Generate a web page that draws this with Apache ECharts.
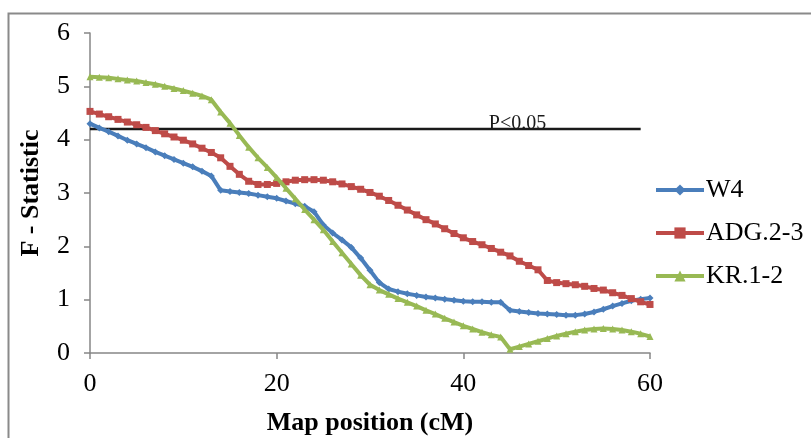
<!DOCTYPE html>
<html>
<head>
<meta charset="utf-8">
<script src="https://cdn.jsdelivr.net/npm/echarts@6/dist/echarts.min.js"></script>
<style>
html,body{margin:0;padding:0;background:#fff;}
#chart{width:811px;height:438px;}
</style>
</head>
<body>
<div id="chart"></div>
<script>
// Map position (cM)
const positions = [0,1,2,3,4,5,6,7,8,9,10,11,12,13,14,15,16,17,18,19,20,21,22,23,24,25,26,27,28,29,30,31,32,33,34,35,36,37,38,39,40,41,42,43,44,45,46,47,48,49,50,51,52,53,54,55,56,57,58,59,60];
const w4 = [4.30,4.22,4.15,4.07,3.99,3.92,3.85,3.77,3.70,3.63,3.56,3.49,3.41,3.32,3.05,3.03,3.01,2.99,2.96,2.93,2.90,2.85,2.80,2.75,2.65,2.40,2.25,2.12,1.98,1.78,1.55,1.32,1.20,1.15,1.11,1.08,1.05,1.03,1.01,0.99,0.97,0.96,0.96,0.95,0.95,0.80,0.78,0.76,0.74,0.73,0.72,0.71,0.71,0.73,0.77,0.82,0.88,0.93,0.98,1.01,1.03];
const adg = [4.53,4.48,4.43,4.38,4.33,4.28,4.23,4.17,4.11,4.05,3.99,3.92,3.84,3.76,3.66,3.50,3.35,3.22,3.16,3.16,3.18,3.21,3.24,3.25,3.25,3.24,3.21,3.17,3.12,3.07,3.01,2.94,2.86,2.77,2.68,2.59,2.50,2.42,2.33,2.24,2.16,2.09,2.03,1.96,1.89,1.82,1.72,1.64,1.56,1.36,1.32,1.30,1.28,1.25,1.21,1.18,1.13,1.08,1.02,0.96,0.91];
const kr = [5.18,5.17,5.16,5.14,5.12,5.10,5.07,5.04,5.00,4.96,4.92,4.87,4.82,4.75,4.52,4.31,4.08,3.86,3.66,3.48,3.29,3.09,2.89,2.69,2.50,2.31,2.09,1.88,1.67,1.46,1.28,1.18,1.10,1.02,0.95,0.88,0.80,0.73,0.65,0.58,0.51,0.45,0.39,0.34,0.30,0.07,0.12,0.17,0.22,0.27,0.32,0.36,0.40,0.43,0.45,0.46,0.45,0.43,0.40,0.36,0.31];
const threshold = 4.2;
const thresholdRange = [0, 59];
const thresholdLabel = 'P<0.05';
const thresholdLabelX = 45.8;
const seriesNames = ['W4','ADG.2-3','KR.1-2'];
const xTicks = [0,20,40,60];
const yTicks = [0,1,2,3,4,5,6];

const font = "'Liberation Serif','Times New Roman',serif";
const axisGray = '#868686';
const colors = ['#4a7ebb','#be4b48','#98b954'];
const symbols = ['diamond','rect','triangle'];
const allData = [w4, adg, kr];

const chart = echarts.init(document.getElementById('chart'), null, {renderer:'canvas'});
const series = seriesNames.map((n,i)=>({
  name:n, type:'line',
  data: positions.map((p,j)=>[p, allData[i][j]]),
  symbol: symbols[i], symbolSize: 7, showSymbol:true,
  lineStyle:{color:colors[i], width:4},
  itemStyle:{color:colors[i]},
  z: 3 + i
}));
series.push({
  name:'threshold', type:'line',
  data: thresholdRange.map(x=>[x, threshold]),
  symbol:'none',
  lineStyle:{color:'#1a1a1a', width:2.5},
  z: 2,
  markPoint:{
    symbol:'circle', symbolSize:0,
    data:[{coord:[thresholdLabelX, threshold]}],
    label:{show:true, position:'top', distance:-5, formatter:thresholdLabel,
      fontFamily:font, fontSize:20, color:'#1a1a1a'}
  }
});

chart.setOption({
  animation:false,
  backgroundColor:'#fff',
  grid:{left:90, right:161, top:33, bottom:85, outerBoundsMode:'none', containLabel:false},
  xAxis:{
    type:'value', min:xTicks[0], max:xTicks[xTicks.length-1], interval:20,
    name:'Map position (cM)', nameLocation:'middle', nameGap:57,
    nameTextStyle:{fontFamily:font, fontSize:26, fontWeight:'bold', color:'#000'},
    axisLine:{show:true, lineStyle:{color:axisGray, width:1.5}},
    axisTick:{show:true, length:6, lineStyle:{color:axisGray, width:1.5}},
    axisLabel:{fontFamily:font, fontSize:26, color:'#000', margin:18},
    splitLine:{show:false}
  },
  yAxis:{
    type:'value', min:yTicks[0], max:yTicks[yTicks.length-1], interval:1,
    name:'F - Statistic', nameLocation:'middle', nameGap:46, nameRotate:90,
    nameTextStyle:{fontFamily:font, fontSize:26, fontWeight:'bold', color:'#000'},
    axisLine:{show:true, lineStyle:{color:axisGray, width:1.5}},
    axisTick:{show:true, length:6, lineStyle:{color:axisGray, width:1.5}},
    axisLabel:{fontFamily:font, fontSize:26, color:'#000', margin:20},
    splitLine:{show:false}
  },
  legend:{
    data:seriesNames, orient:'vertical', left:649, top:171,
    itemWidth:48, itemHeight:14, itemGap:15,
    lineStyle:{width:4},
    textStyle:{fontFamily:font, fontSize:26, color:'#000', lineHeight:28, padding:[0,0,0,-3]}
  },
  graphic:[{
    type:'rect', shape:{x:8.5, y:13.5, width:1000, height:1000},
    style:{fill:'none', stroke:'#8a8a8a', lineWidth:2}, silent:true, z:-1
  }],
  series:series
});
</script>
</body>
</html>
